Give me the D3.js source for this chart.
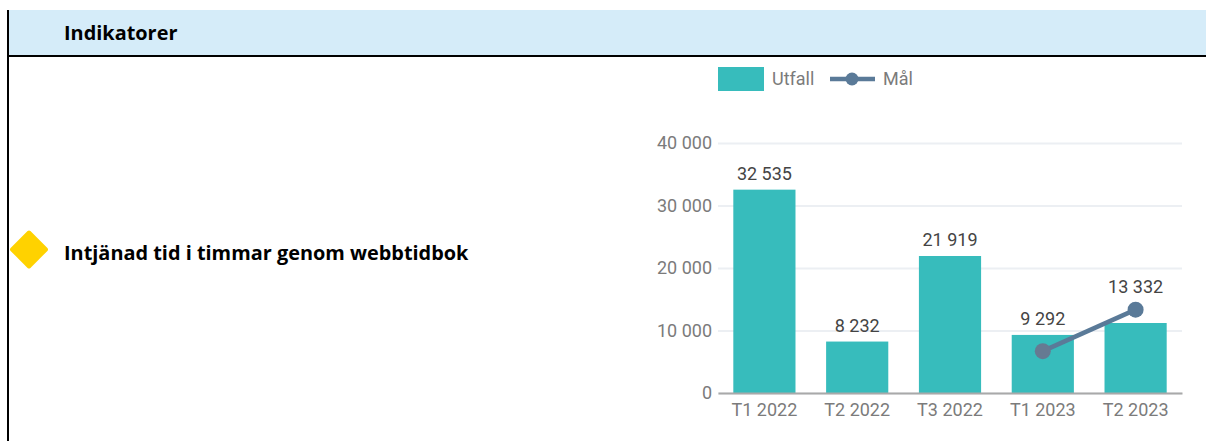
<!DOCTYPE html>
<html>
<head>
<meta charset="utf-8">
<script src="https://cdn.jsdelivr.net/npm/d3@7/dist/d3.min.js"></script>
<style>
  html, body { margin: 0; padding: 0; background: #fff; }
  svg { display: block; }
  .chart text { font-family: Roboto, sans-serif; }
  .row text { font-family: "Open Sans", sans-serif; font-weight: 700; fill: #000; }
</style>
</head>
<body>
<svg id="c" width="1206" height="441"></svg>
<script>
const categories = ["T1 2022", "T2 2022", "T3 2022", "T1 2023", "T2 2023"];
const utfall = [32535, 8232, 21919, 9292, 11200];
const utfallLabels = ["32 535", "8 232", "21 919", "9 292", null];
const mal = [null, null, null, 6700, 13332];
const malLabels = [null, null, null, null, "13 332"];
const yTicks = [0, 10000, 20000, 30000, 40000];
const headerTitle = "Indikatorer";
const rowTitle = "Intjänad tid i timmar genom webbtidbok";

const svg = d3.select("#c");
const teal = "#37bcbc", slate = "#5a7a98";
const fmt = v => String(v).replace(/\B(?=(\d{3})+$)/g, " ");

// Table header and frame
const row = svg.append("g").attr("class", "row");
row.append("rect").attr("x", 8).attr("y", 10).attr("width", 1198).attr("height", 45).attr("fill", "#d5ecf9");
row.append("rect").attr("x", 8).attr("y", 55).attr("width", 1198).attr("height", 2).attr("fill", "#000");
row.append("rect").attr("x", 7).attr("y", 10).attr("width", 2).attr("height", 431).attr("fill", "#000");
row.append("text").attr("x", 64).attr("y", 40).attr("font-size", 19.9).text(headerTitle);
row.append("text").attr("x", 64).attr("y", 260).attr("font-size", 19.9).text(rowTitle);
row.append("rect").attr("x", -14).attr("y", -14).attr("width", 28).attr("height", 28).attr("rx", 2)
  .attr("transform", "translate(29,249.5) rotate(45)").attr("fill", "#ffd200");

// Chart scales
const x = d3.scaleBand().domain(categories).range([718, 1182]).paddingInner(0.33).paddingOuter(0.165);
const y = d3.scaleLinear().domain([0, 40000]).range([393, 143]);

const chart = svg.append("g").attr("class", "chart");

// Gridlines and value axis
const yAxis = chart.append("g").attr("transform", "translate(718,0)")
  .call(d3.axisLeft(y).tickValues(yTicks).tickFormat(fmt).tickSize(-464).tickPadding(6));
yAxis.select(".domain").remove();
yAxis.selectAll("line").attr("stroke", "#eceff3").attr("stroke-width", 2);
yAxis.selectAll("text").attr("font-size", 18).attr("fill", "#7b7b7b");

// Bars
chart.append("g").selectAll("rect").data(categories).join("rect")
  .attr("x", d => x(d)).attr("width", x.bandwidth())
  .attr("y", (d, i) => y(utfall[i])).attr("height", (d, i) => y(0) - y(utfall[i]))
  .attr("fill", teal);

// Category axis
const xAxis = chart.append("g").attr("transform", "translate(0,393)")
  .call(d3.axisBottom(x).tickSize(0).tickPadding(10));
xAxis.select(".domain").attr("stroke", "#a9a9a9").attr("stroke-width", 2);
xAxis.selectAll("text").attr("font-size", 18).attr("fill", "#7b7b7b");

// Target line and points
const cx = i => x(categories[i]) + x.bandwidth() / 2;
const malPoints = mal.map((v, i) => ({ v, i })).filter(d => d.v !== null);
chart.append("path")
  .attr("d", d3.line().x(d => cx(d.i)).y(d => y(d.v))(malPoints))
  .attr("fill", "none").attr("stroke", slate).attr("stroke-width", 4.5);
chart.append("g").selectAll("circle").data(malPoints).join("circle")
  .attr("cx", d => cx(d.i)).attr("cy", d => y(d.v)).attr("r", 8)
  .attr("fill", (d, i) => i === 0 ? "#667a92" : slate);

// Value labels: bar values sit above the bars, the target value above its point
const labelRows = [
  ...utfallLabels.map((text, i) => ({ text, i, v: utfall[i], gap: 10 })),
  ...malLabels.map((text, i) => ({ text, i, v: mal[i], gap: 17 }))
].filter(d => d.text !== null);
chart.append("g").selectAll("text").data(labelRows).join("text")
  .attr("x", d => cx(d.i))
  .attr("y", d => y(d.v) - d.gap)
  .attr("text-anchor", "middle").attr("font-size", 18).attr("fill", "#444")
  .text(d => d.text);

// Legend
const legend = chart.append("g");
legend.append("rect").attr("x", 718).attr("y", 67).attr("width", 46).attr("height", 24).attr("fill", teal);
legend.append("text").attr("x", 772).attr("y", 85).attr("font-size", 18).attr("fill", "#7b7b7b").text("Utfall");
legend.append("line").attr("x1", 830).attr("x2", 875).attr("y1", 79).attr("y2", 79).attr("stroke", slate).attr("stroke-width", 4.5);
legend.append("circle").attr("cx", 852).attr("cy", 79).attr("r", 6.5).attr("fill", slate);
legend.append("text").attr("x", 883).attr("y", 85).attr("font-size", 18).attr("fill", "#7b7b7b").text("Mål");
</script>
</body>
</html>
